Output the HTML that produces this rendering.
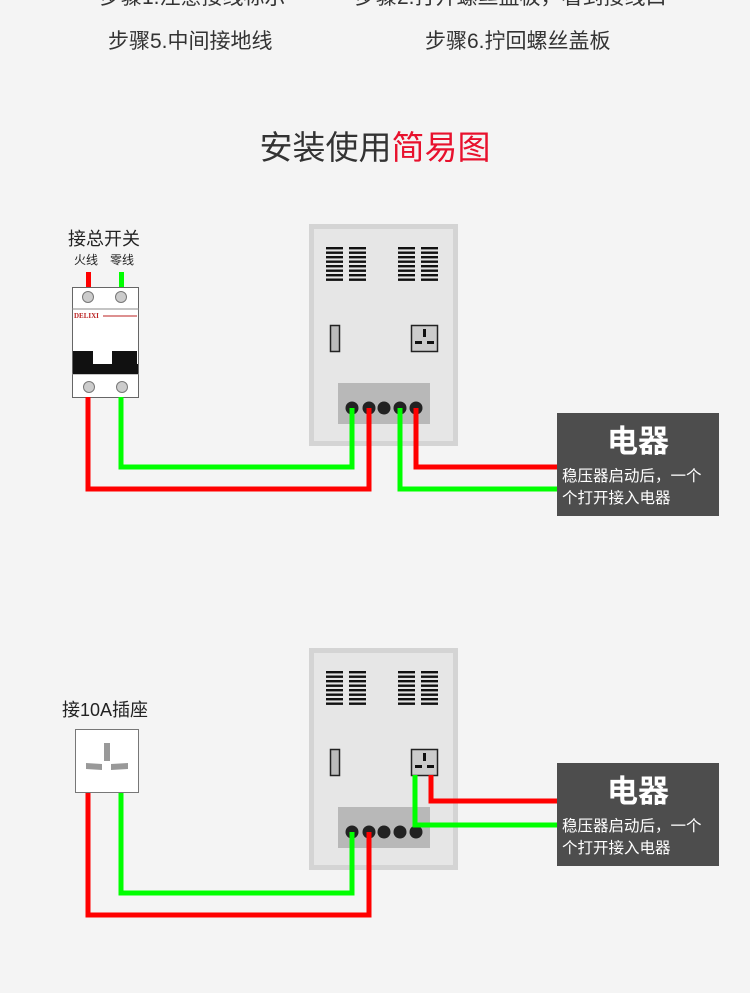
<!DOCTYPE html>
<html><head><meta charset="utf-8"><style>
body{margin:0;width:750px;height:993px;background:#f4f4f4;overflow:hidden;font-family:"Liberation Sans","Noto Sans CJK SC",sans-serif;}
</style></head><body>
<svg width="750" height="993" viewBox="0 0 750 993" xmlns="http://www.w3.org/2000/svg" style="position:absolute;left:0;top:0">
<defs>
<g id="panel">
<rect x="309" y="0" width="149" height="222" fill="#d4d4d4"/>
<rect x="314" y="5" width="139" height="212" fill="#e6e6e6"/>
<g fill="#111">
<rect x="326" y="23" width="17" height="2.4"/><rect x="326" y="27.5" width="17" height="2.4"/><rect x="326" y="32" width="17" height="2.4"/><rect x="326" y="36.5" width="17" height="2.4"/><rect x="326" y="41" width="17" height="2.4"/><rect x="326" y="45.5" width="17" height="2.4"/><rect x="326" y="50" width="17" height="2.4"/><rect x="326" y="54.5" width="17" height="2.4"/>
<rect x="349" y="23" width="17" height="2.4"/><rect x="349" y="27.5" width="17" height="2.4"/><rect x="349" y="32" width="17" height="2.4"/><rect x="349" y="36.5" width="17" height="2.4"/><rect x="349" y="41" width="17" height="2.4"/><rect x="349" y="45.5" width="17" height="2.4"/><rect x="349" y="50" width="17" height="2.4"/><rect x="349" y="54.5" width="17" height="2.4"/>
<rect x="398" y="23" width="17" height="2.4"/><rect x="398" y="27.5" width="17" height="2.4"/><rect x="398" y="32" width="17" height="2.4"/><rect x="398" y="36.5" width="17" height="2.4"/><rect x="398" y="41" width="17" height="2.4"/><rect x="398" y="45.5" width="17" height="2.4"/><rect x="398" y="50" width="17" height="2.4"/><rect x="398" y="54.5" width="17" height="2.4"/>
<rect x="421" y="23" width="17" height="2.4"/><rect x="421" y="27.5" width="17" height="2.4"/><rect x="421" y="32" width="17" height="2.4"/><rect x="421" y="36.5" width="17" height="2.4"/><rect x="421" y="41" width="17" height="2.4"/><rect x="421" y="45.5" width="17" height="2.4"/><rect x="421" y="50" width="17" height="2.4"/><rect x="421" y="54.5" width="17" height="2.4"/>
</g>
<rect x="330.5" y="101.5" width="9" height="26" fill="#bbb" stroke="#222" stroke-width="1.5"/>
<rect x="411.5" y="101.5" width="26" height="26" fill="#ccc" stroke="#222" stroke-width="1.5"/>
<rect x="423" y="105" width="3" height="8" fill="#111"/>
<rect x="415" y="117" width="7" height="3" fill="#111"/><rect x="427" y="117" width="7" height="3" fill="#111"/>
<rect x="338" y="159" width="92" height="41" fill="#b8b8b8"/>
<g fill="#222"><circle cx="352" cy="184" r="6.5"/><circle cx="369" cy="184" r="6.5"/><circle cx="384" cy="184" r="6.5"/><circle cx="400" cy="184" r="6.5"/><circle cx="416" cy="184" r="6.5"/></g>
</g>
<g id="box">
<rect x="557" y="0" width="162" height="103" fill="#4d4d4d"/>
<text x="638" y="39" fill="#fff" font-size="31" font-weight="bold" text-anchor="middle">电器</text>
<text x="562" y="68" fill="#fff" font-size="15.5">稳压器启动后，一个</text>
<text x="562" y="90" fill="#fff" font-size="15.5">个打开接入电器</text>
</g>
</defs>
<g font-size="21" fill="#333">
<text x="100" y="4">步骤1.注意接线标示</text>
<text x="355" y="4">步骤2.打开螺丝盖板，看到接线口</text>
<text x="108" y="48">步骤5.中间接地线</text>
<text x="425" y="48">步骤6.拧回螺丝盖板</text>
</g>
<text x="375" y="159" font-size="33" fill="#333" text-anchor="middle">安装使用<tspan fill="#e8112d">简易图</tspan></text>

<!-- Diagram 1 -->
<use href="#panel" transform="translate(0,224)"/>
<text x="68" y="245" font-size="18" fill="#222">接总开关</text>
<text x="74" y="264" font-size="12" fill="#222">火线</text>
<text x="110" y="264" font-size="12" fill="#222">零线</text>
<rect x="86" y="272" width="5" height="16" fill="#f00"/>
<rect x="119" y="272" width="5" height="16" fill="#0f0"/>
<rect x="72.5" y="287.5" width="66" height="110" fill="#fff" stroke="#666"/>
<line x1="72" y1="309" x2="139" y2="309" stroke="#888"/>
<line x1="72" y1="374" x2="139" y2="374" stroke="#888"/>
<circle cx="88" cy="297" r="5.5" fill="#ccc" stroke="#777"/><circle cx="121" cy="297" r="5.5" fill="#ccc" stroke="#777"/>
<circle cx="89" cy="387" r="5.5" fill="#ccc" stroke="#777"/><circle cx="122" cy="387" r="5.5" fill="#ccc" stroke="#777"/>
<text x="74" y="318" font-size="7" font-weight="bold" fill="#b22" font-family="Liberation Serif,serif">DELIXI</text>
<line x1="103" y1="316" x2="137" y2="316" stroke="#b22" stroke-width="1"/>
<path d="M73 365 V351 H93 V364 H112 V351 H137 V365 Z" fill="#111"/>
<rect x="73" y="364" width="65" height="10" fill="#111"/>
<g fill="none" stroke-width="5">
<polyline points="121,397 121,467 352,467 352,408" stroke="#0f0"/>
<polyline points="88,397 88,489 369,489 369,408" stroke="#f00"/>
<polyline points="416,408 416,467 557,467" stroke="#f00"/>
<polyline points="400,408 400,489 557,489" stroke="#0f0"/>
</g>
<use href="#box" transform="translate(0,413)"/>

<!-- Diagram 2 -->
<use href="#panel" transform="translate(0,648)"/>
<text x="62" y="716" font-size="18" fill="#222">接10A插座</text>
<rect x="75.5" y="729.5" width="63" height="63" fill="#fff" stroke="#777"/>
<rect x="104" y="743" width="6" height="18" fill="#999"/>
<polygon points="86,763 102,764 102,770 86,769" fill="#999"/>
<polygon points="111,764 128,763 128,769 111,770" fill="#999"/>
<g fill="none" stroke-width="5">
<polyline points="121,793 121,893 352,893 352,832" stroke="#0f0"/>
<polyline points="88,793 88,915 369,915 369,832" stroke="#f00"/>
<polyline points="431,775 431,801 557,801" stroke="#f00"/>
<polyline points="415,775 415,825 557,825" stroke="#0f0"/>
</g>
<use href="#box" transform="translate(0,763)"/>
</svg>
</body></html>
